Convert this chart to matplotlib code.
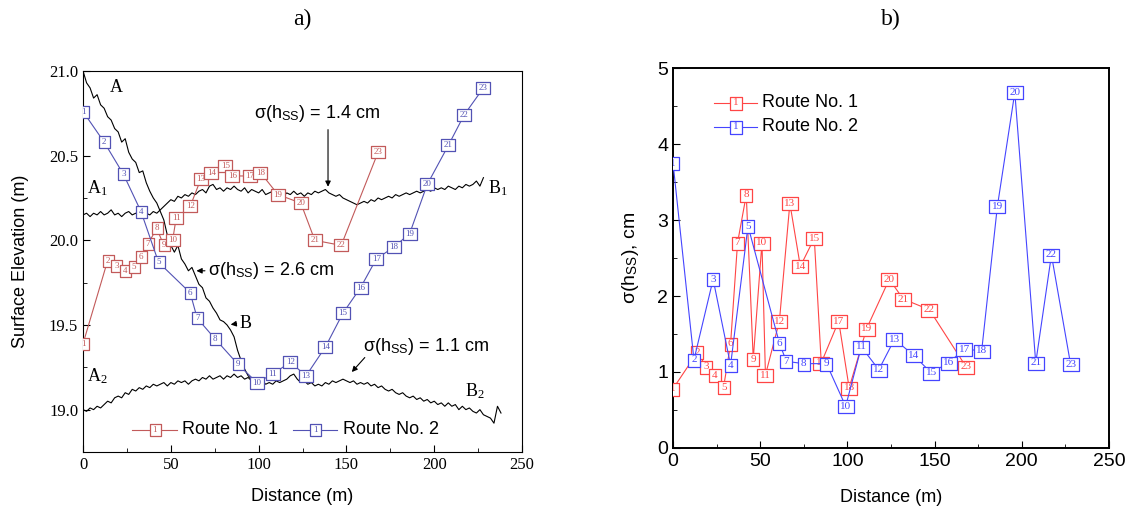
import matplotlib
matplotlib.use("Agg")
import matplotlib.pyplot as plt
import numpy as np
from matplotlib.ticker import MultipleLocator, FormatStrFormatter

plt.rcParams['mathtext.fontset'] = 'custom'
plt.rcParams['mathtext.rm'] = 'Liberation Serif'
plt.rcParams['mathtext.sf'] = 'Liberation Sans'
plt.rcParams['mathtext.it'] = 'Liberation Serif:italic'

SERIF = 'Liberation Serif'
SANS = 'Liberation Sans'

# stations along the two routes
route1_dist = [0, 14, 19, 24, 29, 33, 37, 42, 46, 51, 53, 61, 67, 73, 81, 85, 95, 101, 111, 124, 132, 147, 168]
route1_elev = [19.39, 19.88, 19.85, 19.82, 19.84, 19.90, 19.98, 20.07, 19.97, 20.00, 20.13, 20.20,
               20.36, 20.40, 20.44, 20.38, 20.38, 20.40, 20.27, 20.22, 20.00, 19.97, 20.52]
route1_sigma = [0.78, 1.26, 1.07, 0.96, 0.80, 1.37, 2.70, 3.33, 1.17, 2.70, 0.96, 1.67,
                3.22, 2.39, 2.76, 1.12, 1.67, 0.79, 1.57, 2.22, 1.96, 1.82, 1.07]

route2_dist = [0, 12, 23, 33, 43, 61, 65, 75, 88, 99, 108, 118, 127, 138, 148, 158, 167, 177, 186, 196, 208, 217, 228]
route2_elev = [20.76, 20.58, 20.39, 20.17, 19.87, 19.69, 19.54, 19.42, 19.27, 19.16, 19.21, 19.28,
               19.20, 19.37, 19.57, 19.72, 19.89, 19.96, 20.04, 20.33, 20.56, 20.74, 20.90]
route2_sigma = [3.75, 1.16, 2.22, 1.09, 2.92, 1.38, 1.14, 1.11, 1.11, 0.55, 1.33, 1.03,
                1.43, 1.22, 0.99, 1.12, 1.30, 1.28, 3.18, 4.68, 1.12, 2.54, 1.10]

# surface profiles, read every 2 m
prof_ab_dist = np.arange(0, 99, 2)
prof_ab = [21.00, 20.93, 20.90, 20.84, 20.86, 20.80, 20.78, 20.73, 20.71, 20.66,
           20.64, 20.58, 20.60, 20.52, 20.48, 20.46, 20.40, 20.41, 20.34, 20.29,
           20.25, 20.22, 20.17, 20.12, 20.03, 19.97, 19.93, 19.97, 19.89, 19.86,
           19.82, 19.84, 19.79, 19.74, 19.72, 19.66, 19.64, 19.60, 19.57, 19.53,
           19.52, 19.50, 19.47, 19.43, 19.35, 19.29, 19.24, 19.20, 19.18, 19.17]

prof_a1b1_dist = np.arange(0, 229, 2)
prof_a1b1 = [20.15, 20.16, 20.14, 20.16, 20.15, 20.17, 20.15, 20.16, 20.18, 20.15,
             20.16, 20.14, 20.16, 20.17, 20.15, 20.16, 20.15, 20.17, 20.16, 20.15,
             20.17, 20.16, 20.18, 20.20, 20.22, 20.24, 20.23, 20.26, 20.25, 20.27,
             20.26, 20.28, 20.27, 20.29, 20.30, 20.28, 20.32, 20.33, 20.30, 20.31,
             20.29, 20.31, 20.30, 20.32, 20.30, 20.29, 20.31, 20.28, 20.30, 20.29,
             20.28, 20.30, 20.27, 20.28, 20.29, 20.27, 20.28, 20.26, 20.28, 20.27,
             20.29, 20.27, 20.28, 20.26, 20.28, 20.27, 20.29, 20.28, 20.29, 20.30,
             20.28, 20.27, 20.26, 20.27, 20.25, 20.24, 20.23, 20.22, 20.21, 20.22,
             20.23, 20.22, 20.24, 20.23, 20.25, 20.24, 20.25, 20.26, 20.25, 20.27,
             20.26, 20.27, 20.28, 20.27, 20.28, 20.29, 20.28, 20.29, 20.30, 20.29,
             20.31, 20.30, 20.31, 20.30, 20.32, 20.31, 20.30, 20.32, 20.31, 20.33,
             20.32, 20.33, 20.35, 20.32, 20.37]

prof_a2b2_dist = np.arange(0, 239, 2)
prof_a2b2 = [19.00, 18.99, 19.01, 19.00, 19.02, 19.01, 19.03, 19.05, 19.04, 19.07,
             19.08, 19.07, 19.10, 19.09, 19.12, 19.11, 19.13, 19.12, 19.14, 19.13,
             19.15, 19.14, 19.15, 19.16, 19.14, 19.16, 19.15, 19.17, 19.16, 19.17,
             19.15, 19.17, 19.18, 19.17, 19.19, 19.18, 19.20, 19.18, 19.19, 19.20,
             19.18, 19.20, 19.19, 19.21, 19.19, 19.20, 19.18, 19.19, 19.17, 19.18,
             19.16, 19.17, 19.15, 19.16, 19.15, 19.17, 19.16, 19.17, 19.18, 19.20,
             19.21, 19.18, 19.16, 19.17, 19.15, 19.16, 19.14, 19.15, 19.14, 19.16,
             19.15, 19.17, 19.16, 19.17, 19.18, 19.17, 19.16, 19.17, 19.15, 19.16,
             19.15, 19.16, 19.14, 19.15, 19.13, 19.14, 19.12, 19.11, 19.12, 19.10,
             19.09, 19.10, 19.08, 19.07, 19.08, 19.06, 19.07, 19.05, 19.06, 19.04,
             19.05, 19.03, 19.04, 19.02, 19.04, 19.02, 19.03, 19.00, 19.02, 19.00,
             19.01, 18.99, 18.98, 19.00, 18.97, 18.96, 18.95, 18.92, 19.02, 18.98]

RED_A, BLUE_A = '#c25a5a', '#5252b4'
RED_B, BLUE_B = '#ff4545', '#4545ff'


def box(w, h):
    # rectangular marker path, w x h in pixels
    return [(-w / 2, -h / 2), (w / 2, -h / 2), (w / 2, h / 2), (-w / 2, h / 2), (-w / 2, -h / 2)]


def draw_box(ax, x, y, num, color, fs, w1, w2, h, z, **kw):
    w = w1 if num < 10 else w2
    ax.plot([x], [y], marker=box(w, h), ms=max(w, h) * 0.72, mfc='white', mec=color,
            mew=0.9, ls='none', zorder=z, **kw)
    ax.text(x, y, str(num), ha='center', va='center', fontsize=fs, family=SERIF,
            color=color, zorder=z + 0.1, clip_on=True, **kw)


def draw_route(ax, x, y, color, fs, w1, w2, h, z):
    ax.plot(x, y, color=color, lw=0.8, zorder=z)
    for i, (xi, yi) in enumerate(zip(x, y)):
        draw_box(ax, xi, yi, i + 1, color, fs, w1, w2, h, z + 0.5)


def legend_entry(ax, x0, x1, y, color, label, fs_box, w, h, fs_lab):
    ax.plot([x0, x1], [y, y], color=color, lw=0.8, transform=ax.transAxes, zorder=6)
    draw_box(ax, (x0 + x1) / 2, y, 1, color, fs_box, w, w, h, 7, transform=ax.transAxes)
    ax.text(x1 + 0.012, y, label, transform=ax.transAxes, ha='left', va='center',
            fontsize=fs_lab, family=SANS, zorder=7)


fig = plt.figure(figsize=(11.3, 5.11), dpi=100)

# ---- a) ----
ax1 = fig.add_axes([0.0735, 0.1155, 0.3885, 0.7456])
ax1.plot(prof_ab_dist, prof_ab, color='k', lw=0.8, zorder=2)
ax1.plot(prof_a1b1_dist, prof_a1b1, color='k', lw=0.8, zorder=2)
ax1.plot(prof_a2b2_dist, prof_a2b2, color='k', lw=0.8, zorder=2)
draw_route(ax1, route1_dist, route1_elev, RED_A, 6.5, 11, 14, 12, 3)
draw_route(ax1, route2_dist, route2_elev, BLUE_A, 6.5, 11, 14, 12, 4)

ax1.set_xlim(0, 250)
ax1.set_ylim(18.75, 21.0)
ax1.xaxis.set_major_locator(MultipleLocator(50))
ax1.xaxis.set_minor_locator(MultipleLocator(25))
ax1.yaxis.set_major_locator(MultipleLocator(0.5))
ax1.yaxis.set_minor_locator(MultipleLocator(0.25))
ax1.yaxis.set_major_formatter(FormatStrFormatter('%.1f'))
ax1.tick_params(which='both', direction='in', labelsize=12)
ax1.tick_params(which='major', length=5)
ax1.tick_params(which='minor', length=3)
for lab in ax1.get_xticklabels() + ax1.get_yticklabels():
    lab.set_family(SERIF)
ax1.set_xlabel('Distance (m)', fontsize=13, family=SANS, labelpad=11)
ax1.set_ylabel('Surface Elevation (m)', fontsize=13, family=SANS, labelpad=14)
ax1.set_title('a)', fontsize=17, family=SERIF, pad=33)

ax1.text(19, 20.90, 'A', fontsize=13, family=SERIF, ha='center', va='center')
ax1.text(8, 20.31, 'A$_\\mathrm{1}$', fontsize=13, family=SERIF, ha='center', va='center')
ax1.text(8, 19.20, 'A$_\\mathrm{2}$', fontsize=13, family=SERIF, ha='center', va='center')
ax1.text(236, 20.31, 'B$_\\mathrm{1}$', fontsize=13, family=SERIF, ha='center', va='center')
ax1.text(223, 19.11, 'B$_\\mathrm{2}$', fontsize=13, family=SERIF, ha='center', va='center')
ax1.text(89, 19.51, 'B', fontsize=13, family=SERIF, ha='left', va='center')
ax1.annotate('', xy=(82.5, 19.50), xytext=(89, 19.51),
             arrowprops=dict(arrowstyle='-|>', color='k', lw=0.8, mutation_scale=8))

ax1.text(133, 20.75, 'σ(h$_\\mathsf{SS}$) = 1.4 cm', fontsize=13, family=SANS, ha='center', va='center')
ax1.annotate('', xy=(139.5, 20.30), xytext=(139.5, 20.67),
             arrowprops=dict(arrowstyle='-|>', color='k', lw=0.8, mutation_scale=8))
ax1.text(71, 19.82, 'σ(h$_\\mathsf{SS}$) = 2.6 cm', fontsize=13, family=SANS, ha='left', va='center')
ax1.annotate('', xy=(63, 19.82), xytext=(71, 19.82),
             arrowprops=dict(arrowstyle='-|>', color='k', lw=0.8, mutation_scale=8))
ax1.text(159.5, 19.37, 'σ(h$_\\mathsf{SS}$) = 1.1 cm', fontsize=13, family=SANS, ha='left', va='center')
ax1.annotate('', xy=(152, 19.21), xytext=(161.5, 19.32),
             arrowprops=dict(arrowstyle='-|>', color='k', lw=0.8, mutation_scale=8))

legend_entry(ax1, 0.112, 0.214, 0.058, RED_A, 'Route No. 1', 6.5, 11, 12, 13)
legend_entry(ax1, 0.478, 0.579, 0.058, BLUE_A, 'Route No. 2', 6.5, 11, 12, 13)

# ---- b) ----
ax2 = fig.add_axes([0.5956, 0.1233, 0.3858, 0.7436])
draw_route(ax2, route1_dist, route1_sigma, RED_B, 8, 12, 16, 13, 3)
draw_route(ax2, route2_dist, route2_sigma, BLUE_B, 8, 12, 16, 13, 4)
ax2.set_xlim(0, 250)
ax2.set_ylim(0, 5)
ax2.xaxis.set_major_locator(MultipleLocator(50))
ax2.xaxis.set_minor_locator(MultipleLocator(25))
ax2.yaxis.set_major_locator(MultipleLocator(1))
ax2.yaxis.set_minor_locator(MultipleLocator(0.5))
ax2.tick_params(which='both', direction='in', labelsize=14)
ax2.tick_params(which='major', length=5)
ax2.tick_params(which='minor', length=3)
for lab in ax2.get_xticklabels() + ax2.get_yticklabels():
    lab.set_family(SANS)
for sp in ax2.spines.values():
    sp.set_linewidth(1.4)
ax2.set_xlabel('Distance (m)', fontsize=13, family=SANS, labelpad=14)
ax2.set_ylabel('σ(h$_\\mathsf{SS}$), cm', fontsize=14, family=SANS, labelpad=12)
ax2.set_title('b)', fontsize=17, family=SERIF, pad=31)

legend_entry(ax2, 0.094, 0.193, 0.908, RED_B, 'Route No. 1', 8, 12, 13, 13)
legend_entry(ax2, 0.094, 0.193, 0.845, BLUE_B, 'Route No. 2', 8, 12, 13, 13)

fig.savefig('out.png', dpi=100)
